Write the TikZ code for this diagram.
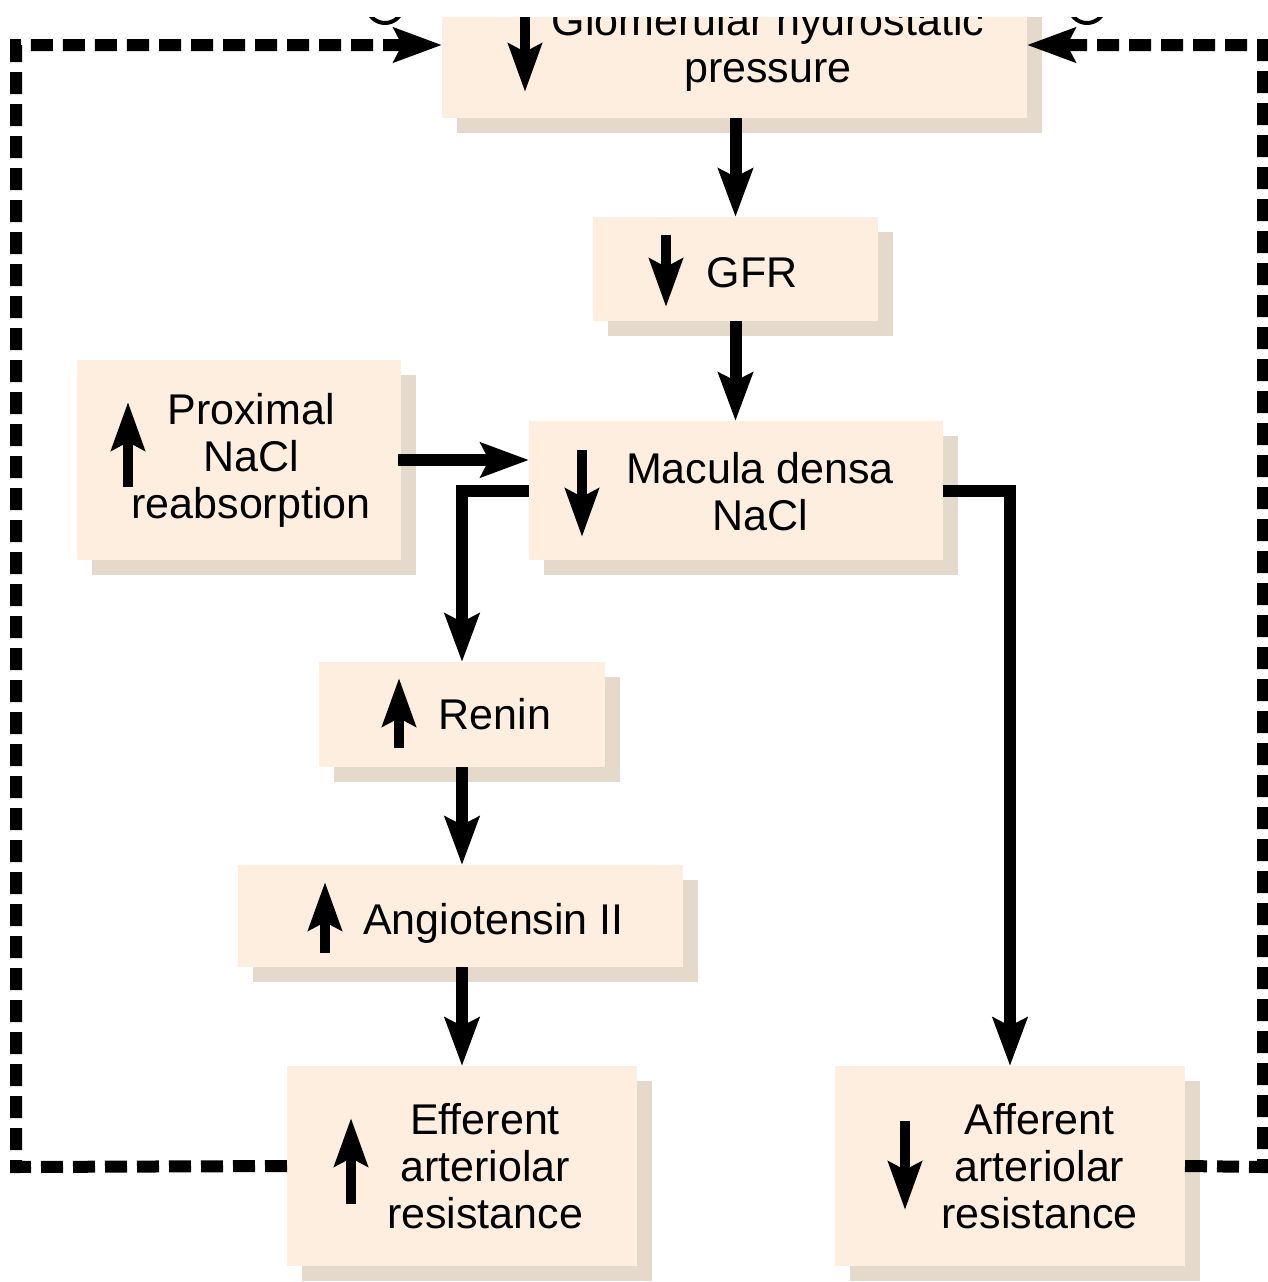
\documentclass[tikz,border=0pt]{standalone}
\usepackage{fontspec}
\setmainfont{Liberation Sans}
\usetikzlibrary{arrows.meta,shadows}
\definecolor{boxfill}{RGB}{253,238,223}
\definecolor{boxshadow}{RGB}{229,217,204}
\begin{document}
\begin{tikzpicture}[x=1pt,y=-1pt,
  box/.style={rectangle, fill=boxfill, draw=none, inner sep=0pt, outer sep=0pt,
    drop shadow={shadow xshift=15pt, shadow yshift=-15pt, fill=boxshadow, opacity=1}},
  lbl/.style={font=\fontsize{43}{47}\selectfont, align=center, anchor=base, inner sep=0pt},
  bigtip/.style={-{Stealth[length=48pt,width=34pt,inset=8pt]}},
  flow/.style={line width=12pt, bigtip},
  fb/.style={line width=12pt, dash pattern=on 22pt off 10pt, bigtip},
  ind/.style={line width=10pt, -{Stealth[length=48pt,width=33pt,inset=8pt]}}]
\useasboundingbox (0,0) rectangle (1268,1282);
\clip (0,17) rectangle (1268,1282);

% boxes
\node[box, minimum width=585pt, minimum height=138pt] (ghp) at (734.5,49) {};
\node[box, minimum width=285pt, minimum height=104pt] (gfr) at (735.5,269) {};
\node[box, minimum width=324pt, minimum height=200pt] (prox) at (239,460) {};
\node[box, minimum width=414pt, minimum height=139pt] (mac) at (736,490.5) {};
\node[box, minimum width=286pt, minimum height=105pt] (renin) at (462,714.5) {};
\node[box, minimum width=445pt, minimum height=102pt] (ang) at (460.5,916) {};
\node[box, minimum width=350pt, minimum height=200pt] (eff) at (462,1166) {};
\node[box, minimum width=350pt, minimum height=200pt] (aff) at (1010,1166) {};

% labels (base anchor = baseline of the last line)
\node[lbl] (ghpT) at (768,82) {Glomerular hydrostatic\\pressure};
\node[lbl] (gfrT) at (752,287) {GFR};
\node[lbl] (proxT) at (251,518) {Proximal\\NaCl\\reabsorption};
\node[lbl] (macT) at (760,530) {Macula densa\\NaCl};
\node[lbl] (reninT) at (495,729) {Renin};
\node[lbl] (angT) at (493.5,934) {Angiotensin II};
\node[lbl] (effT) at (485,1228) {Efferent\\arteriolar\\resistance};
\node[lbl] (affT) at (1039.5,1228) {Afferent\\arteriolar\\resistance};

% indicator arrows
\draw[ind] (525,5) -- (525,92);
\draw[ind] (666,235) -- (666,307);
\draw[ind] (128,487) -- (128,402);
\draw[ind] (582,450) -- (582,537);
\draw[ind] (399,748) -- (399,678);
\draw[ind] (325,953) -- (325,882);
\draw[ind] (351,1204) -- (351,1118);
\draw[ind] (905,1121) -- (905,1210);

% partial circle marks at the top edge
\draw[line width=4pt] (385,5) circle[radius=18pt];
\draw[line width=4pt] (1087,5) circle[radius=18pt];

% solid connectors
\draw[flow] (gfr.north |- ghp.south) -- (gfr.north);
\draw[flow] (gfr.south) -- (gfr.south |- mac.north);
\draw[flow] ([xshift=-3pt]prox.east) -- (prox.east -| mac.west);
\draw[flow] (mac.west) -| (renin.north);
\draw[flow] (mac.east) -| (aff.north);
\draw[flow] (renin.south) -- (renin.south |- ang.north);
\draw[flow] (ang.south -| eff.north) -- (eff.north);

% dashed feedback loops
\coordinate (cbl) at (16,1167);
\coordinate (cbr) at (1263,1167);
\draw[fb] (eff.west) -- (cbl) |- ([yshift=4pt]ghp.west);
\draw[fb] (aff.east) -- (cbr) |- ([yshift=4pt]ghp.east);
\end{tikzpicture}
\end{document}
